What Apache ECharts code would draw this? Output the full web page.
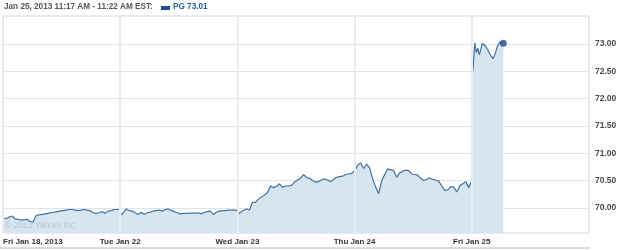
<!DOCTYPE html>
<html>
<head>
<meta charset="utf-8">
<script src="https://cdn.jsdelivr.net/npm/echarts@6/dist/echarts.min.js"></script>
<style>html,body{margin:0;padding:0;background:#fff}#c{width:625px;height:250px}</style>
</head>
<body>
<div id="c"></div>
<script>
// Day labels for the x axis (one trading day per unit)
var dayLabels = ['Fri Jan 18, 2013', 'Tue Jan 22', 'Wed Jan 23', 'Thu Jan 24', 'Fri Jan 25'];
// Y-axis tick values
var yTicks = [70.00, 70.50, 71.00, 71.50, 72.00, 72.50, 73.00];
// Prices at 10-minute steps from 9:30 to 16:00
var day1 = [69.82,69.80,69.83,69.85,69.80,69.79,69.78,69.78,69.79,69.75,69.74,69.86,69.87,69.88,69.89,69.90,69.91,69.92,69.93,69.94,69.95,69.96,69.97,69.97,69.96,69.95,69.96,69.97,69.96,69.95,69.91,69.90,69.91,69.93,69.90,69.94,69.95,69.97,69.97,69.97];
var day2 = [69.86,69.91,69.98,69.95,69.94,69.91,69.88,69.92,69.88,69.91,69.92,69.94,69.95,69.96,69.94,69.97,69.98,69.95,69.93,69.91,69.89,69.90,69.90,69.90,69.91,69.90,69.91,69.89,69.92,69.93,69.94,69.88,69.92,69.94,69.95,69.95,69.96,69.96,69.96,69.95];
var day3 = [69.86,69.92,69.95,69.98,69.96,70.10,70.10,70.16,70.20,70.23,70.28,70.40,70.37,70.39,70.44,70.38,70.40,70.40,70.41,70.47,70.51,70.54,70.61,70.56,70.54,70.50,70.47,70.48,70.51,70.53,70.51,70.48,70.52,70.56,70.57,70.58,70.61,70.62,70.63,70.68];
var day4 = [70.67,70.78,70.82,70.72,70.80,70.73,70.53,70.38,70.26,70.49,70.61,70.71,70.70,70.68,70.56,70.64,70.67,70.69,70.68,70.62,70.61,70.60,70.54,70.50,70.52,70.55,70.52,70.51,70.49,70.40,70.32,70.33,70.39,70.38,70.29,70.40,70.44,70.48,70.37,70.50];
// Prices at 5-minute steps from 9:30 to ~11:15 on the last day
var day5 = [72.34,72.60,73.02,72.84,72.92,72.80,72.90,73.01,72.99,72.96,72.92,72.87,72.82,72.77,72.73,72.78,72.86,72.96,73.00,73.04,73.03,73.01];
var fullDayMinutes = 390;

var days = [day1, day2, day3, day4, day5];
var steps = [10, 10, 10, 10, 5];
var seriesData = [];
days.forEach(function (arr, d) {
  arr.forEach(function (v, i) {
    seriesData.push([d + i * steps[d] / fullDayMinutes, v]);
  });
  if (d < days.length - 1) seriesData.push([d + 1, null]);
});
var last = seriesData[seriesData.length - 1];

var chart = echarts.init(document.getElementById('c'), null, {renderer: 'canvas'});
var fontFam = '"Liberation Sans", Arial, sans-serif';
chart.setOption({
  animation: false,
  grid: {left: 3, right: 36, top: 16, bottom: 17, show: true, borderColor: '#cfd8e1', borderWidth: 1, backgroundColor: 'transparent'},
  xAxis: {
    type: 'value', min: 0, max: 5, interval: 1, z: 3,
    axisLine: {show: false}, axisTick: {show: false},
    splitLine: {show: true, lineStyle: {color: '#e7ecf1', width: 2}},
    axisLabel: {
      formatter: function (v) { return dayLabels[v] || ''; },
      alignMinLabel: 'left', showMaxLabel: false, margin: 5,
      fontFamily: fontFam, fontWeight: 'bold', fontSize: 8, color: '#333'
    }
  },
  yAxis: {
    type: 'value', position: 'right', min: 69.54, max: 73.51,
    axisLine: {show: false},
    axisTick: {show: false, customValues: yTicks},
    splitLine: {show: true, lineStyle: {color: '#dce3ea', width: 1}},
    axisLabel: {
      customValues: yTicks, margin: 6,
      formatter: function (v) { return v.toFixed(2); },
      fontFamily: fontFam, fontWeight: 'bold', fontSize: 8.5, color: '#4a4a4a'
    }
  },
  series: [{
    type: 'line', data: seriesData, showSymbol: false, connectNulls: false,
    lineStyle: {color: '#44719f', width: 1.2},
    areaStyle: {color: '#d5e4f0', opacity: 0.95},
    z: 2
  }, {
    type: 'scatter', data: [last], symbolSize: 7,
    itemStyle: {color: '#1f4f87'}, z: 4
  }],
  graphic: [
    {type: 'text', left: 4, top: 3, z: 10, style: {text: 'Jan 25, 2013 11:17 AM - 11:22 AM EST:', font: 'bold 8.2px ' + fontFam, fill: '#555'}},
    {type: 'rect', z: 10, shape: {x: 161, y: 6, width: 9, height: 4}, style: {fill: '#1f4f8f'}},
    {type: 'text', left: 173, top: 3, z: 10, style: {text: 'PG 73.01', font: 'bold 8.2px ' + fontFam, fill: '#1f5fa6'}},
    {type: 'text', left: 5, top: 221, z: 10, style: {text: '\u00a9 2013 Yahoo! Inc.', font: '8.5px ' + fontFam, fill: '#b8c5d2'}},
    {type: 'rect', z: 10, shape: {x: 0, y: 247, width: 590, height: 2}, style: {fill: '#dcdcdc'}}
  ]
});
</script>
</body>
</html>
